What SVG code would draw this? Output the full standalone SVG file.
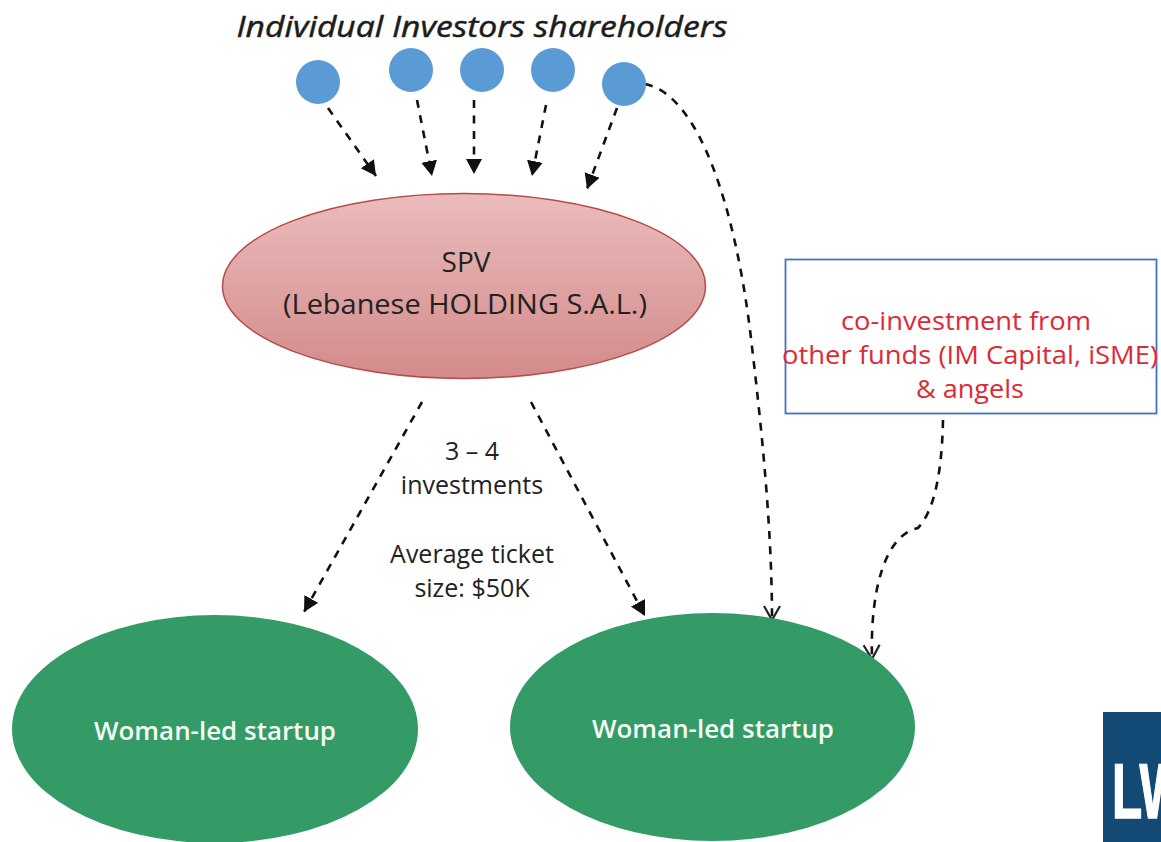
<svg xmlns="http://www.w3.org/2000/svg" width="1161" height="842" viewBox="0 0 1161 842">
<style>
text{font-family:"Open Sans","Noto Sans","DejaVu Sans",sans-serif;text-anchor:middle}
.inv{fill:#5b9bd5}
.st{fill:#349a66}
.stt{fill:#f4faf6;font-size:26px;font-weight:600}
.blk{fill:#222;font-size:25px}
.red{fill:#dc2a36;font-size:25px}
.d{fill:none;stroke:#111;stroke-width:2.6;stroke-dasharray:8 7.500}
.a{marker-end:url(#solid)}
.o{marker-end:url(#open)}
</style>
<defs>
<marker id="solid" markerUnits="userSpaceOnUse" markerWidth="18" markerHeight="18" refX="15" refY="8" orient="auto"><path d="M0 0L15 8L0 16z" fill="#111"/></marker>
<marker id="open" markerUnits="userSpaceOnUse" markerWidth="20" markerHeight="20" refX="15" refY="9" orient="auto"><path d="M1 1L15 9L1 17" fill="none" stroke="#222" stroke-width="2.2"/></marker>
<linearGradient id="spv" x1="0" y1="0" x2="0" y2="1"><stop offset="0" stop-color="#ebbcbc"/><stop offset="1" stop-color="#d38a8a"/></linearGradient>
</defs>
<g id="connectors">
<path class="d a" d="M328 108L376 176"/>
<path class="d a" d="M417 100L432 176"/>
<path class="d a" d="M474 100L474 174"/>
<path class="d a" d="M546 105L532 176"/>
<path class="d a" d="M617 108L587 189"/>
<path class="d o" d="M645 84C700 95 735 210 750 330C762 430 772 530 772 620"/>
<path class="d o" d="M943 420C942 470 935 510 918 528C885 535 870 590 872 659"/>
<path class="d a" d="M422 402L304 612"/>
<path class="d a" d="M531 402L645 616"/>
</g>
<text id="title" x="482" y="37" font-size="30" font-style="italic" fill="#1c1c1c" stroke="#1c1c1c" stroke-width="0.5" textLength="491" lengthAdjust="spacingAndGlyphs">Individual Investors shareholders</text>
<g id="investor-1"><circle class="inv" cx="318" cy="82" r="22"/></g>
<g id="investor-2"><circle class="inv" cx="411" cy="70" r="22"/></g>
<g id="investor-3"><circle class="inv" cx="482" cy="70" r="22"/></g>
<g id="investor-4"><circle class="inv" cx="553" cy="70" r="22"/></g>
<g id="investor-5"><circle class="inv" cx="624" cy="84" r="22"/></g>
<g id="spv-node">
<ellipse cx="464" cy="286" rx="241.500" ry="92.500" fill="url(#spv)" stroke="#b84a4a" stroke-width="1.500"/>
<text class="blk" x="466" y="272" style="font-size:28px">SPV</text>
<text class="blk" x="465" y="314" style="font-size:28px" textLength="364" lengthAdjust="spacingAndGlyphs">(Lebanese HOLDING S.A.L.)</text>
</g>
<g id="label-investments">
<text class="blk" x="472" y="460">3 – 4</text>
<text class="blk" x="472" y="494">investments</text>
<text class="blk" x="472" y="563">Average ticket</text>
<text class="blk" x="472" y="597">size: $50K</text>
</g>
<g id="coinvest">
<rect x="785.500" y="259.500" width="371" height="154" fill="#fff" stroke="#4472c4" stroke-width="1.800"/>
<text class="red" x="966" y="330" textLength="250" lengthAdjust="spacingAndGlyphs">co-investment from</text>
<text class="red" x="970" y="364" textLength="376" lengthAdjust="spacingAndGlyphs">other funds (IM Capital, iSME)</text>
<text class="red" x="970" y="398" textLength="108" lengthAdjust="spacingAndGlyphs">&amp; angels</text>
</g>
<g id="startup-1">
<ellipse class="st" cx="215" cy="729" rx="203" ry="114"/>
<text class="stt" x="215" y="740" textLength="242" lengthAdjust="spacingAndGlyphs">Woman-led startup</text>
</g>
<g id="startup-2">
<ellipse class="st" cx="712.500" cy="727" rx="202.500" ry="114"/>
<text class="stt" x="713" y="738" textLength="242" lengthAdjust="spacingAndGlyphs">Woman-led startup</text>
</g>
<g id="logo">
<rect x="1103" y="712" width="58" height="130" fill="#134a75"/>
<text x="1112" y="818" style="text-anchor:start;font-family:'Liberation Sans',sans-serif;font-size:78px;font-weight:700" fill="#fff" stroke="#fff" stroke-width="1.500" textLength="74" lengthAdjust="spacingAndGlyphs">LW</text>
</g>
</svg>
